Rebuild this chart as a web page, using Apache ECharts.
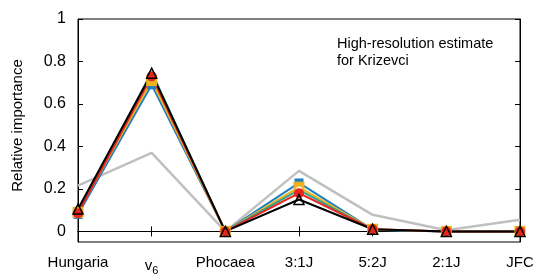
<!DOCTYPE html>
<html>
<head>
<meta charset="utf-8">
<script src="https://cdn.jsdelivr.net/npm/echarts@6/dist/echarts.min.js"></script>
<style>
html, body { margin: 0; padding: 0; background: #fff; }
#chart { width: 548px; height: 274px; }
</style>
</head>
<body>
<div id="chart"></div>
<script>
// categories and values
var categories = ['Hungaria', 'v_6', 'Phocaea', '3:1J', '5:2J', '2:1J', 'JFC'];
var yTicks = [0, 0.2, 0.4, 0.6, 0.8, 1];

var grayVals   = [0.215, 0.37, 0.0, 0.285, 0.078, 0.005, 0.055];
var blueVals   = [0.08, 0.69, 0.0, 0.228, 0.008, 0.0, 0.0];
var yellowVals = [0.09, 0.71, 0.0, 0.208, 0.01, 0.0, 0.0];
var greenVals  = [0.092, 0.75, 0.0, 0.195, 0.008, 0.0, 0.0];
var redVals    = [0.085, 0.73, 0.0, 0.18, 0.01, 0.0, 0.0];
var blackVals  = [0.105, 0.745, 0.0, 0.15, 0.01, 0.0, 0.0];

var font = 'Liberation Sans, Arial, sans-serif';

function lineSeries(name, data, color, symbol, size, filled, width) {
    return {
        name: name,
        type: 'line',
        data: data,
        symbol: symbol,
        symbolSize: size,
        showSymbol: symbol !== 'none',
        lineStyle: { color: color, width: width || 2 },
        itemStyle: filled ? { color: color } : { color: 'rgba(0,0,0,0)', borderColor: color, borderWidth: 1.5 },
        silent: true,
        animation: false
    };
}

function init() {
    var myChart = echarts.init(document.getElementById('chart'));
    var option = {
        animation: false,
        title: {
            text: 'High-resolution estimate\nfor Krizevci',
            left: 332,
            top: 30,
            textStyle: { fontFamily: font, fontSize: 14.5, fontWeight: 'normal', color: '#000', lineHeight: 17 }
        },
        grid: {
            left: 78,
            right: 28,
            top: 19,
            bottom: 32,
            outerBoundsMode: 'none',
            containLabel: false,
            show: true,
            borderColor: '#000',
            borderWidth: 1
        },
        xAxis: [{
            type: 'category',
            boundaryGap: false,
            data: categories,
            axisLine: { lineStyle: { color: '#000', width: 1 } },
            axisTick: { inside: true, length: 5, lineStyle: { color: '#000' } },
            axisLabel: {
                margin: 13,
                fontFamily: font,
                fontSize: 15,
                color: '#000',
                interval: 0,
                formatter: function (v) {
                    if (v === 'v_6') return '{a|v}{s|6}';
                    return v;
                },
                rich: {
                    a: { fontFamily: font, fontSize: 15, color: '#000' },
                    s: { fontFamily: font, fontSize: 11, color: '#000', verticalAlign: 'top', padding: [10, 0, 0, 0] }
                }
            },
            splitLine: { show: false }
        }, {
            type: 'category',
            position: 'top',
            boundaryGap: false,
            data: categories,
            axisLine: { lineStyle: { color: '#000' } },
            axisTick: { inside: true, length: 5, lineStyle: { color: '#000' } },
            axisLabel: { show: false }
        }],
        yAxis: [{
            type: 'value',
            min: -0.05,
            max: 1,
            name: 'Relative importance',
            nameLocation: 'middle',
            nameGap: 53,
            nameTextStyle: { fontFamily: font, fontSize: 15, color: '#000', padding: [0, 0, 0, 10] },
            axisLine: { show: true, lineStyle: { color: '#000' } },
            axisTick: { show: true, inside: true, length: 5, customValues: yTicks, lineStyle: { color: '#000' } },
            axisLabel: { customValues: yTicks, fontFamily: font, fontSize: 16, color: '#000', margin: 12 },
            splitLine: { show: false }
        }, {
            type: 'value',
            position: 'right',
            min: -0.05,
            max: 1,
            axisLine: { show: true, lineStyle: { color: '#000' } },
            axisTick: { show: true, inside: true, length: 5, customValues: yTicks, lineStyle: { color: '#000' } },
            axisLabel: { show: false },
            splitLine: { show: false }
        }],
        series: [
            lineSeries('gray', grayVals, '#c0c0c0', 'none', 0, true, 2.5),
            lineSeries('blue', blueVals, '#1f7fc0', 'rect', 9, true),
            lineSeries('yellow', yellowVals, '#ecb320', 'rect', 11, true),
            lineSeries('green', greenVals, '#2aa38a', 'emptyCircle', 7, false),
            lineSeries('red', redVals, '#e8261e', 'circle', 10, true),
            lineSeries('black', blackVals, '#000000', 'triangle', 10, false)
        ]
    };
    myChart.setOption(option);
}
init();
</script>
</body>
</html>
